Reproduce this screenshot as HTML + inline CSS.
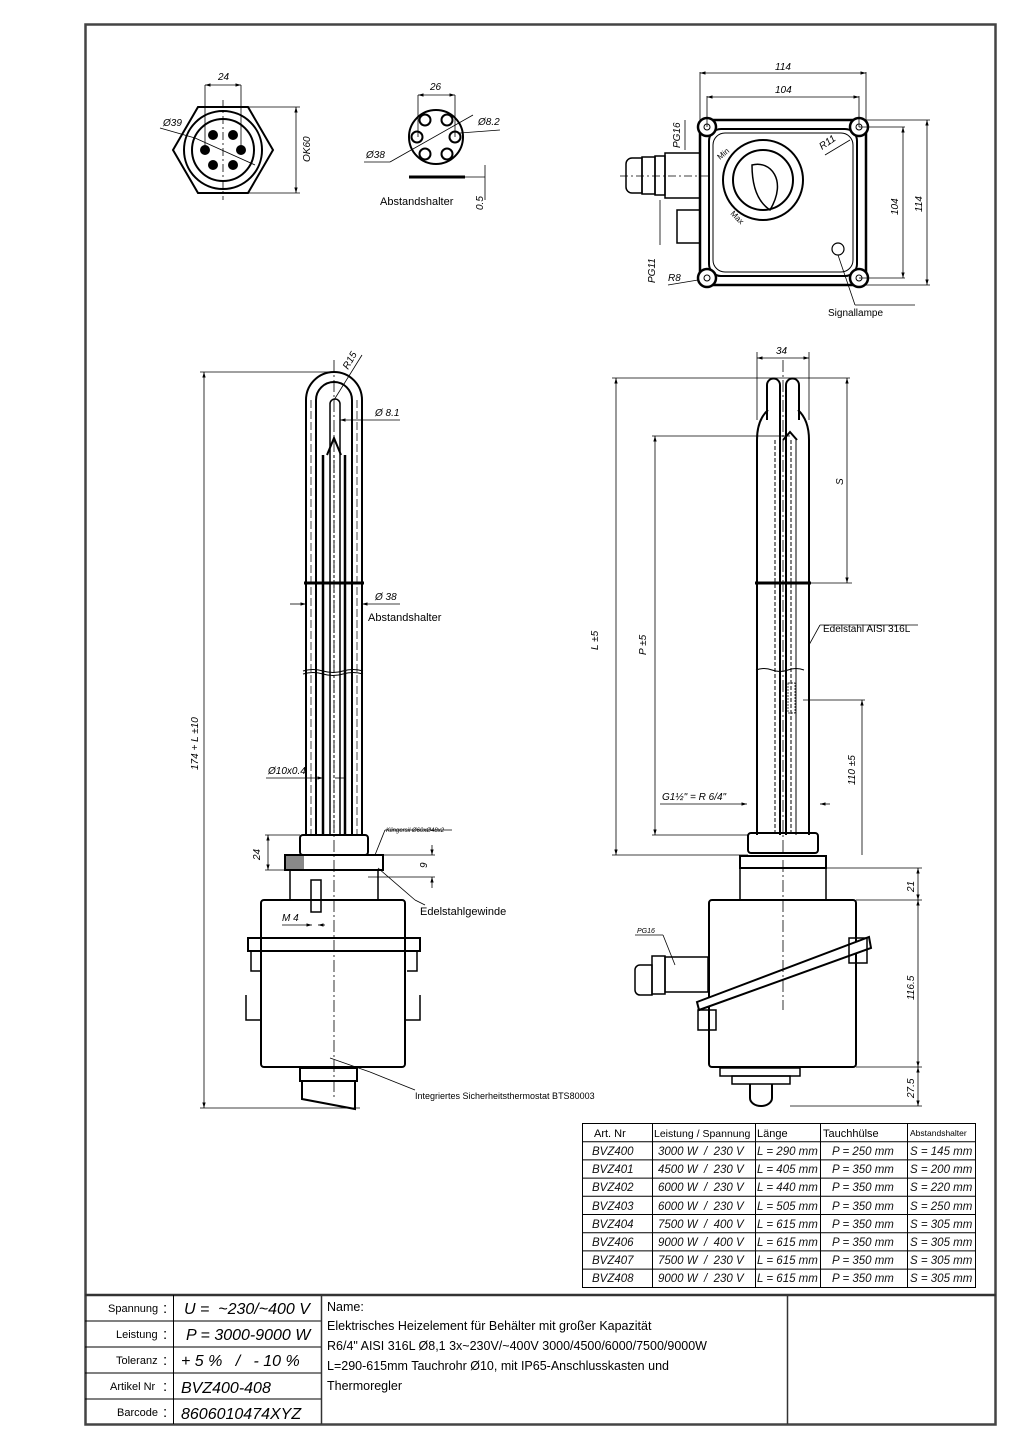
<!DOCTYPE html>
<html><head><meta charset="utf-8"><style>
html,body{margin:0;padding:0;background:#fff}
svg text{font-family:"Liberation Sans",sans-serif;white-space:pre}
.i{font-style:italic}
</style></head><body>
<svg width="1024" height="1448" viewBox="0 0 1024 1448" xmlns="http://www.w3.org/2000/svg" xml:space="preserve">
<defs>
<marker id="a" viewBox="0 0 10 10" refX="10" refY="5" markerWidth="7" markerHeight="7" orient="auto-start-reverse"><path d="M0,2 L10,5 L0,8z" fill="#000"/></marker>
</defs>
<rect x="85.5" y="24.5" width="910" height="1400" fill="none" stroke="#444" stroke-width="2.5"/>

<g fill="none" stroke="#000" stroke-width="2">
<polygon points="173,150 198,107 248,107 273,150 248,193 198,193"/>
<circle cx="223" cy="150" r="39"/>
<circle cx="223" cy="150" r="31"/>
</g>
<g fill="#000"><circle cx="213" cy="135" r="5"/><circle cx="233" cy="135" r="5"/><circle cx="205" cy="150" r="5"/><circle cx="241" cy="150" r="5"/><circle cx="213" cy="165" r="5"/><circle cx="233" cy="165" r="5"/></g>
<g stroke="#000" stroke-width="0.8" fill="none">
<line x1="205" y1="85" x2="205" y2="150"/><line x1="241" y1="85" x2="241" y2="150"/>
<line x1="205" y1="85" x2="241" y2="85" marker-start="url(#a)" marker-end="url(#a)"/>
<line x1="248" y1="107" x2="300" y2="107"/><line x1="248" y1="193" x2="300" y2="193"/>
<line x1="296" y1="107" x2="296" y2="193" marker-start="url(#a)" marker-end="url(#a)"/>
<line x1="160" y1="128" x2="195" y2="138"/><line x1="195" y1="138" x2="255" y2="165"/>
<line x1="223" y1="100" x2="223" y2="200" stroke-dasharray="8,3,2,3"/>
</g>
<text x="218" y="80" font-size="10" class="i">24</text>
<text x="163" y="126" font-size="10" class="i">Ø39</text>
<text x="310" y="162" font-size="10" class="i" transform="rotate(-90 310 162)">OK60</text>

<g fill="none" stroke="#000" stroke-width="2">
<circle cx="436" cy="137" r="27"/>
<circle cx="425" cy="120" r="5.5"/><circle cx="447" cy="120" r="5.5"/>
<circle cx="417" cy="137" r="5.5"/><circle cx="455" cy="137" r="5.5"/>
<circle cx="425" cy="154" r="5.5"/><circle cx="447" cy="154" r="5.5"/>
</g>
<line x1="409" y1="177" x2="465" y2="177" stroke="#000" stroke-width="3"/>
<g stroke="#000" stroke-width="0.8" fill="none">
<line x1="418" y1="95" x2="418" y2="137"/><line x1="455" y1="95" x2="455" y2="137"/>
<line x1="418" y1="95" x2="455" y2="95" marker-start="url(#a)" marker-end="url(#a)"/>
<line x1="364" y1="162" x2="390" y2="162"/><line x1="390" y1="162" x2="473" y2="115"/>
<line x1="460" y1="133" x2="500" y2="130"/>
<line x1="465" y1="177" x2="485" y2="177"/><line x1="485" y1="165" x2="485" y2="200"/>
</g>
<text x="430" y="90" font-size="10" class="i">26</text>
<text x="478" y="125" font-size="10" class="i">Ø8.2</text>
<text x="366" y="158" font-size="10" class="i">Ø38</text>
<text x="380" y="205" font-size="11">Abstandshalter</text>
<text x="483" y="210" font-size="10" class="i" transform="rotate(-90 483 210)">0.5</text>

<g fill="none" stroke="#000">
<rect x="700" y="120" width="166" height="165" rx="10" stroke-width="2.5"/>
<rect x="709" y="129" width="148" height="147" rx="12" stroke-width="2"/>
<rect x="713" y="133" width="140" height="139" rx="12" stroke-width="1"/>
<circle cx="763" cy="180" r="40" stroke-width="2"/>
<circle cx="763" cy="180" r="30" stroke-width="2"/>
<path d="M752,165 C770,160 788,180 770,210 C755,200 752,180 752,165z" stroke-width="1.5"/>
<circle cx="838" cy="249" r="6" stroke-width="1.2"/>
</g>
<g fill="#fff" stroke="#000" stroke-width="2.5">
<circle cx="707" cy="127" r="9"/><circle cx="859" cy="127" r="9"/><circle cx="707" cy="278" r="9"/><circle cx="859" cy="278" r="9"/>
</g>
<g fill="none" stroke="#000" stroke-width="1"><circle cx="707" cy="127" r="3"/><circle cx="859" cy="127" r="3"/><circle cx="707" cy="278" r="3"/><circle cx="859" cy="278" r="3"/></g>
<g fill="none" stroke="#000" stroke-width="1.5">
<path d="M632,158 h10 v35 h-10 a6,6 0 0 1 -6,-6 v-23 a6,6 0 0 1 6,-6z"/>
<rect x="642" y="157" width="13" height="37"/><rect x="655" y="156" width="10" height="39"/>
<rect x="665" y="153" width="35" height="45"/>
<rect x="677" y="210" width="23" height="33"/>
</g>
<g stroke="#000" stroke-width="0.8" fill="none">
<line x1="700" y1="72" x2="700" y2="120"/><line x1="866" y1="72" x2="866" y2="120"/>
<line x1="700" y1="73" x2="866" y2="73" marker-start="url(#a)" marker-end="url(#a)"/>
<line x1="707" y1="96" x2="707" y2="127"/><line x1="859" y1="96" x2="859" y2="127"/>
<line x1="707" y1="97" x2="859" y2="97" marker-start="url(#a)" marker-end="url(#a)"/>
<line x1="866" y1="120" x2="930" y2="120"/><line x1="866" y1="285" x2="930" y2="285"/>
<line x1="927" y1="120" x2="927" y2="285" marker-start="url(#a)" marker-end="url(#a)"/>
<line x1="859" y1="127" x2="905" y2="127"/><line x1="859" y1="278" x2="905" y2="278"/>
<line x1="903" y1="127" x2="903" y2="278" marker-start="url(#a)" marker-end="url(#a)"/>
<line x1="825" y1="155" x2="850" y2="140"/>
<line x1="685" y1="120" x2="685" y2="150"/>
<line x1="660" y1="200" x2="660" y2="245"/>
<line x1="668" y1="285" x2="698" y2="280"/>
<line x1="838" y1="255" x2="855" y2="305"/><line x1="855" y1="305" x2="915" y2="305"/>
<line x1="620" y1="176" x2="710" y2="176" stroke-dasharray="8,3,2,3"/>
</g>
<text x="775" y="70" font-size="10" class="i">114</text>
<text x="775" y="93" font-size="10" class="i">104</text>
<text x="680" y="148" font-size="10" class="i" transform="rotate(-90 680 148)">PG16</text>
<text x="822" y="150" font-size="10" class="i" transform="rotate(-35 822 150)">R11</text>
<text x="898" y="215" font-size="10" class="i" transform="rotate(-90 898 215)">104</text>
<text x="922" y="212" font-size="10" class="i" transform="rotate(-90 922 212)">114</text>
<text x="655" y="283" font-size="10" class="i" transform="rotate(-90 655 283)">PG11</text>
<text x="668" y="281" font-size="10" class="i">R8</text>
<text x="720" y="160" font-size="8" font-family="Liberation Serif" transform="rotate(-40 720 160)">Min</text>
<text x="730" y="214" font-size="8" font-family="Liberation Serif" transform="rotate(45 730 214)">Max</text>
<text x="828" y="316" font-size="10">Signallampe</text>

<g fill="none" stroke="#000">
<path d="M306,835 V400 A28,28 0 0 1 362,400 V835" stroke-width="2"/>
<path d="M316,835 V400 A18,18 0 0 1 352,400 V835" stroke-width="2"/>
<path d="M330,835 V404 A5,5 0 0 1 340,404 V835" stroke-width="1.5"/>
<path d="M327,455 L334,438 L341,455" stroke-width="2"/>
<line x1="323" y1="455" x2="323" y2="835" stroke-width="2.5"/>
<line x1="345" y1="455" x2="345" y2="835" stroke-width="2.5"/>
<line x1="334" y1="455" x2="334" y2="835" stroke-width="1" stroke-dasharray="3,2"/>
<line x1="311" y1="400" x2="311" y2="835" stroke-width="0.7" stroke-dasharray="8,3"/>
<line x1="357" y1="400" x2="357" y2="835" stroke-width="0.7" stroke-dasharray="8,3"/>
<line x1="304" y1="583" x2="364" y2="583" stroke-width="3"/>
<path d="M303,671 q10,-3 20,0 t20,0 t20,0" stroke-width="1"/>
<path d="M303,674 q10,-3 20,0 t20,0 t20,0" stroke-width="1"/>
<rect x="300" y="835" width="68" height="20" rx="3" stroke-width="2"/>
<rect x="285" y="855" width="98" height="15" stroke-width="2"/>
<rect x="290" y="870" width="88" height="30" stroke-width="1.5"/>
<rect x="261" y="900" width="144" height="167" rx="3" stroke-width="2"/>
<rect x="248" y="938" width="172" height="13" stroke-width="2"/>
<path d="M251,951 v20 h10 M417,951 v20 h-10" stroke-width="1.5"/>
<path d="M246,995 v25 h15 M420,995 v25 h-15" stroke-width="1.5"/>
<rect x="300" y="1068" width="57" height="13" stroke-width="2"/>
<path d="M302,1081 v18 l53,10 v-28" stroke-width="2"/>
<rect x="311" y="880" width="10" height="32" stroke-width="1.5"/>
</g>
<rect x="286" y="856" width="18" height="13" fill="#888"/>
<g stroke="#000" stroke-width="0.8" fill="none">
<line x1="334" y1="360" x2="334" y2="1100" stroke-dasharray="12,3,2,3"/>
<line x1="200" y1="372" x2="334" y2="372"/><line x1="200" y1="1108" x2="360" y2="1108"/>
<line x1="204" y1="372" x2="204" y2="1108" marker-start="url(#a)" marker-end="url(#a)"/>
<line x1="334" y1="400" x2="362" y2="355"/>
<line x1="340" y1="420" x2="362" y2="420" marker-start="url(#a)"/><line x1="362" y1="420" x2="400" y2="420"/>
<line x1="290" y1="604" x2="306" y2="604" marker-end="url(#a)"/><line x1="362" y1="604" x2="400" y2="604" marker-start="url(#a)"/>
<line x1="266" y1="778" x2="323" y2="778" marker-end="url(#a)"/><line x1="345" y1="778" x2="335" y2="778"/>
<line x1="265" y1="835" x2="300" y2="835"/><line x1="265" y1="870" x2="285" y2="870"/>
<line x1="268" y1="835" x2="268" y2="870" marker-start="url(#a)" marker-end="url(#a)"/>
<line x1="383" y1="855" x2="435" y2="855"/><line x1="368" y1="877" x2="435" y2="877"/>
<line x1="432" y1="845" x2="432" y2="855" marker-end="url(#a)"/><line x1="432" y1="888" x2="432" y2="877" marker-end="url(#a)"/>
<line x1="375" y1="855" x2="385" y2="830"/><line x1="385" y1="830" x2="452" y2="830"/>
<line x1="378" y1="868" x2="415" y2="900"/><line x1="415" y1="900" x2="425" y2="905"/>
<line x1="282" y1="925" x2="312" y2="925" marker-end="url(#a)"/><line x1="325" y1="925" x2="318" y2="925" marker-end="url(#a)"/>
<line x1="330" y1="1058" x2="370" y2="1072"/><line x1="370" y1="1072" x2="415" y2="1090"/>
</g>
<text x="348" y="370" font-size="10" class="i" transform="rotate(-60 348 370)">R15</text>
<text x="375" y="416" font-size="10" class="i">Ø 8.1</text>
<text x="375" y="600" font-size="10" class="i">Ø 38</text>
<text x="368" y="621" font-size="11">Abstandshalter</text>
<text x="268" y="774" font-size="10" class="i">Ø10x0.4</text>
<text x="198" y="770" font-size="10" class="i" transform="rotate(-90 198 770)">174 + L ±10</text>
<text x="260" y="860" font-size="10" class="i" transform="rotate(-90 260 860)">24</text>
<text x="427" y="868" font-size="10" class="i" transform="rotate(-90 427 868)">9</text>
<text x="386" y="832" font-size="6" class="i">Klingersil Ø60xØ48x2</text>
<text x="420" y="915" font-size="11">Edelstahlgewinde</text>
<text x="282" y="921" font-size="10" class="i">M 4</text>
<text x="415" y="1099" font-size="9">Integriertes Sicherheitsthermostat BTS80003</text>

<g fill="none" stroke="#000">
<path d="M757,835 V440 Q757,420 768,410 M809,835 V440 Q809,420 798,410" stroke-width="2"/>
<path d="M767,420 V385 A6.5,6.5 0 0 1 780,385 V835 M786,835 V385 A6.5,6.5 0 0 1 799,385 V420" stroke-width="2"/>
<path d="M783,440 L790,432 L797,440" stroke-width="2"/>
<line x1="775" y1="440" x2="775" y2="835" stroke-width="1" stroke-dasharray="4,2"/>
<line x1="791" y1="440" x2="791" y2="835" stroke-width="1" stroke-dasharray="4,2"/>
<line x1="796" y1="440" x2="796" y2="835" stroke-width="1"/>
<line x1="755" y1="583" x2="811" y2="583" stroke-width="3"/>
<path d="M756,670 q8,-3 16,0 t16,0 t16,0" stroke-width="1"/>
<rect x="788" y="683" width="7" height="30" stroke-width="0.7" stroke-dasharray="2,1"/>
<rect x="748" y="833" width="70" height="20" rx="3" stroke-width="2"/>
<rect x="740" y="856" width="86" height="12" stroke-width="2"/>
<rect x="740" y="868" width="86" height="32" stroke-width="1.5"/>
<rect x="709" y="900" width="147" height="167" rx="3" stroke-width="2"/>
<rect x="720" y="1068" width="80" height="8" stroke-width="1.5"/>
<rect x="732" y="1076" width="58" height="8" stroke-width="1.5"/>
<path d="M750,1084 v14 a11,8 0 0 0 22,0 v-14" stroke-width="2"/>
<polygon points="697,1002 869,937 871,948 699,1010" stroke-width="2" fill="#fff"/>
<rect x="698" y="1010" width="18" height="20" stroke-width="1.5"/>
<rect x="849" y="938" width="18" height="25" stroke-width="1.5"/>
<path d="M640,965 a5,5 0 0 0 -5,5 v20 a5,5 0 0 0 5,5 h12 v-30z" stroke-width="1.5"/>
<rect x="652" y="956" width="13" height="38" stroke-width="1.5"/>
<rect x="665" y="957" width="43" height="35" stroke-width="1.5"/>
</g>
<g stroke="#000" stroke-width="0.8" fill="none">
<line x1="783" y1="360" x2="783" y2="1010" stroke-dasharray="12,3,2,3"/>
<line x1="757" y1="352" x2="757" y2="420"/><line x1="809" y1="352" x2="809" y2="420"/>
<line x1="757" y1="358" x2="809" y2="358" marker-start="url(#a)" marker-end="url(#a)"/>
<line x1="612" y1="378" x2="850" y2="378"/><line x1="612" y1="855" x2="748" y2="855"/>
<line x1="616" y1="378" x2="616" y2="855" marker-start="url(#a)" marker-end="url(#a)"/>
<line x1="652" y1="436" x2="790" y2="436"/><line x1="652" y1="835" x2="748" y2="835"/>
<line x1="655" y1="436" x2="655" y2="835" marker-start="url(#a)" marker-end="url(#a)"/>
<line x1="809" y1="583" x2="852" y2="583"/>
<line x1="847" y1="378" x2="847" y2="583" marker-start="url(#a)" marker-end="url(#a)"/>
<line x1="803" y1="700" x2="865" y2="700"/>
<line x1="862" y1="700" x2="862" y2="855" marker-start="url(#a)"/>
<line x1="809" y1="645" x2="820" y2="625"/><line x1="820" y1="625" x2="918" y2="625"/>
<line x1="660" y1="804" x2="747" y2="804" marker-end="url(#a)"/><line x1="820" y1="804" x2="830" y2="804" marker-start="url(#a)"/>
<line x1="826" y1="868" x2="922" y2="868"/><line x1="856" y1="900" x2="922" y2="900"/><line x1="856" y1="1067" x2="922" y2="1067"/><line x1="790" y1="1106" x2="922" y2="1106"/>
<line x1="918" y1="868" x2="918" y2="900" marker-start="url(#a)" marker-end="url(#a)"/>
<line x1="918" y1="900" x2="918" y2="1067" marker-start="url(#a)" marker-end="url(#a)"/>
<line x1="918" y1="1067" x2="918" y2="1106" marker-start="url(#a)" marker-end="url(#a)"/>
<line x1="635" y1="935" x2="663" y2="935"/><line x1="663" y1="935" x2="675" y2="965"/>
</g>
<text x="776" y="354" font-size="10" class="i">34</text>
<text x="843" y="485" font-size="10" class="i" transform="rotate(-90 843 485)">S</text>
<text x="598" y="650" font-size="10" class="i" transform="rotate(-90 598 650)">L ±5</text>
<text x="646" y="655" font-size="10" class="i" transform="rotate(-90 646 655)">P ±5</text>
<text x="823" y="632" font-size="10">Edelstahl AISI 316L</text>
<text x="855" y="785" font-size="10" class="i" transform="rotate(-90 855 785)">110 ±5</text>
<text x="662" y="800" font-size="10" class="i">G1½" = R 6/4"</text>
<text x="914" y="892" font-size="10" class="i" transform="rotate(-90 914 892)">21</text>
<text x="914" y="1000" font-size="10" class="i" transform="rotate(-90 914 1000)">116.5</text>
<text x="914" y="1098" font-size="10" class="i" transform="rotate(-90 914 1098)">27.5</text>
<text x="637" y="933" font-size="7" class="i">PG16</text>

<g stroke="#000" stroke-width="1" fill="none">
<rect x="582.5" y="1123.5" width="393" height="164"/>
<line x1="582" y1="1141.7" x2="976" y2="1141.7"/><line x1="582" y1="1159.9" x2="976" y2="1159.9"/><line x1="582" y1="1178.1" x2="976" y2="1178.1"/><line x1="582" y1="1196.3" x2="976" y2="1196.3"/><line x1="582" y1="1214.5" x2="976" y2="1214.5"/><line x1="582" y1="1232.7" x2="976" y2="1232.7"/><line x1="582" y1="1250.9" x2="976" y2="1250.9"/><line x1="582" y1="1269.1" x2="976" y2="1269.1"/>
<line x1="652.5" y1="1123" x2="652.5" y2="1288"/><line x1="755.5" y1="1123" x2="755.5" y2="1288"/><line x1="820.5" y1="1123" x2="820.5" y2="1288"/><line x1="907.5" y1="1123" x2="907.5" y2="1288"/>
</g>
<g font-size="11">
<text x="594" y="1137">Art. Nr</text><text x="654" y="1137" font-size="10.5">Leistung / Spannung</text><text x="757" y="1137">Länge</text><text x="823" y="1137">Tauchhülse</text><text x="910" y="1136" font-size="8.5">Abstandshalter</text>
</g>
<g font-size="11.5" class="i" fill="#111">
<text x="592" y="1155">BVZ400</text><text x="658" y="1155">3000 W  /  230 V</text><text x="757" y="1155">L = 290 mm</text><text x="832" y="1155">P = 250 mm</text><text x="910" y="1155">S = 145 mm</text>
<text x="592" y="1173">BVZ401</text><text x="658" y="1173">4500 W  /  230 V</text><text x="757" y="1173">L = 405 mm</text><text x="832" y="1173">P = 350 mm</text><text x="910" y="1173">S = 200 mm</text>
<text x="592" y="1191">BVZ402</text><text x="658" y="1191">6000 W  /  230 V</text><text x="757" y="1191">L = 440 mm</text><text x="832" y="1191">P = 350 mm</text><text x="910" y="1191">S = 220 mm</text>
<text x="592" y="1210">BVZ403</text><text x="658" y="1210">6000 W  /  230 V</text><text x="757" y="1210">L = 505 mm</text><text x="832" y="1210">P = 350 mm</text><text x="910" y="1210">S = 250 mm</text>
<text x="592" y="1228">BVZ404</text><text x="658" y="1228">7500 W  /  400 V</text><text x="757" y="1228">L = 615 mm</text><text x="832" y="1228">P = 350 mm</text><text x="910" y="1228">S = 305 mm</text>
<text x="592" y="1246">BVZ406</text><text x="658" y="1246">9000 W  /  400 V</text><text x="757" y="1246">L = 615 mm</text><text x="832" y="1246">P = 350 mm</text><text x="910" y="1246">S = 305 mm</text>
<text x="592" y="1264">BVZ407</text><text x="658" y="1264">7500 W  /  230 V</text><text x="757" y="1264">L = 615 mm</text><text x="832" y="1264">P = 350 mm</text><text x="910" y="1264">S = 305 mm</text>
<text x="592" y="1282">BVZ408</text><text x="658" y="1282">9000 W  /  230 V</text><text x="757" y="1282">L = 615 mm</text><text x="832" y="1282">P = 350 mm</text><text x="910" y="1282">S = 305 mm</text>
</g>

<g stroke="#333" fill="none">
<line x1="85" y1="1295" x2="996" y2="1295" stroke-width="2.5"/>
<g stroke="#000" stroke-width="1">
<line x1="85" y1="1321" x2="321" y2="1321"/><line x1="85" y1="1347" x2="321" y2="1347"/><line x1="85" y1="1373" x2="321" y2="1373"/><line x1="85" y1="1399" x2="321" y2="1399"/>
<line x1="173.5" y1="1295" x2="173.5" y2="1424"/>
</g>
<line x1="321.5" y1="1295" x2="321.5" y2="1424" stroke-width="1.5"/>
<line x1="787.5" y1="1295" x2="787.5" y2="1424" stroke-width="1.5"/>
</g>
<g font-size="11">
<text x="108" y="1312">Spannung</text><text x="116" y="1338">Leistung</text><text x="116" y="1364">Toleranz</text><text x="110" y="1390">Artikel Nr</text><text x="117" y="1416">Barcode</text>
</g>
<g font-size="15"><text x="163" y="1313">:</text><text x="163" y="1339">:</text><text x="163" y="1365">:</text><text x="163" y="1391">:</text><text x="163" y="1417">:</text></g>
<g font-size="16" class="i">
<text x="184" y="1314">U =  ~230/~400 V</text>
<text x="186" y="1340">P = 3000-9000 W</text>
<text x="181" y="1366">+ 5 %   /   - 10 %</text>
<text x="181" y="1393">BVZ400-408</text>
<text x="181" y="1419">8606010474XYZ</text>
</g>
<g font-size="12.5">
<text x="327" y="1311">Name:</text>
<text x="327" y="1330">Elektrisches Heizelement für Behälter mit großer Kapazität</text>
<text x="327" y="1350">R6/4" AISI 316L Ø8,1 3x~230V/~400V 3000/4500/6000/7500/9000W</text>
<text x="327" y="1370">L=290-615mm Tauchrohr Ø10, mit IP65-Anschlusskasten und</text>
<text x="327" y="1390">Thermoregler</text>
</g>
</svg>
</body></html>
